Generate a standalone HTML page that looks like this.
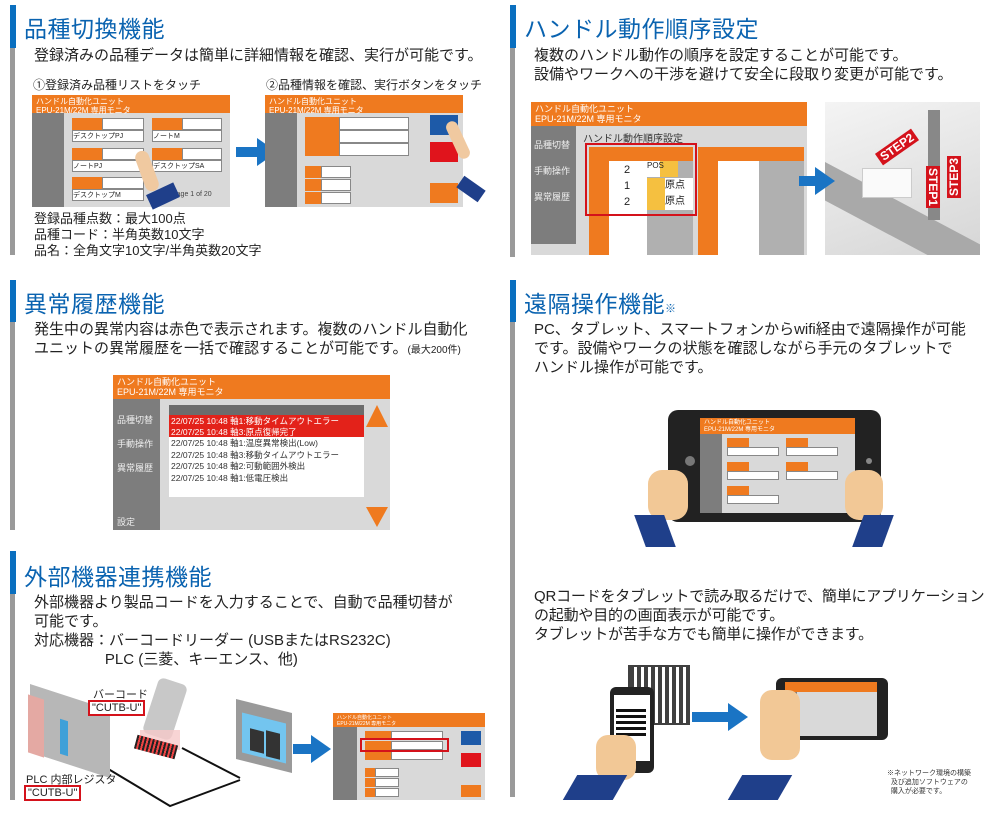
<!DOCTYPE html>
<html><head><meta charset="utf-8">
<style>
*{margin:0;padding:0;box-sizing:border-box}
body{width:1000px;height:813px;position:relative;background:#fff;font-family:"Liberation Sans","Noto Sans CJK JP",sans-serif;color:#222;overflow:hidden}
.a{position:absolute}
.blue{background:#0a6fbf}
.gray{background:#9a9a9a}
.h{position:absolute;font-size:23px;color:#0a63b0;white-space:nowrap;letter-spacing:0.5px}
.t{position:absolute;font-size:15px;line-height:19px;white-space:nowrap;color:#222}
.s{position:absolute;font-size:12px;white-space:nowrap}
.scr{position:absolute;background:#d9d9d9;overflow:hidden}
.scr .top{position:absolute;left:0;top:0;right:0;background:#ef7a1f;color:#fff;font-size:8px;line-height:9px;padding:2px 4px}
.scr .side{position:absolute;left:0;bottom:0;background:#7d7d7d}
.o{position:absolute;background:#ef7a1f}
.w{position:absolute;background:#fff;border:1px solid #888}
.arr{position:absolute;width:0;height:0;border-top:14px solid transparent;border-bottom:14px solid transparent;border-left:20px solid #1a74c4}
.ab{position:absolute;background:#1a74c4}
.red{border:2px solid #d4121b;position:absolute}
</style></head><body>

<!-- Section bars -->
<div class="a blue" style="left:10px;top:5px;width:6px;height:43px"></div>
<div class="a gray" style="left:10px;top:48px;width:5px;height:207px"></div>
<div class="a blue" style="left:10px;top:280px;width:6px;height:42px"></div>
<div class="a gray" style="left:10px;top:322px;width:5px;height:208px"></div>
<div class="a blue" style="left:10px;top:551px;width:6px;height:43px"></div>
<div class="a gray" style="left:10px;top:594px;width:5px;height:206px"></div>
<div class="a blue" style="left:510px;top:5px;width:6px;height:43px"></div>
<div class="a gray" style="left:510px;top:48px;width:5px;height:209px"></div>
<div class="a blue" style="left:510px;top:280px;width:6px;height:42px"></div>
<div class="a gray" style="left:510px;top:322px;width:5px;height:475px"></div>

<!-- Section 1 -->
<div class="h" style="left:24px;top:10px">品種切換機能</div>
<div class="t" style="left:34px;top:46px">登録済みの品種データは簡単に詳細情報を確認、実行が可能です。</div>
<div class="s" style="left:33px;top:76px">①登録済み品種リストをタッチ</div>
<div class="s" style="left:266px;top:76px">②品種情報を確認、実行ボタンをタッチ</div>
<div class="scr" style="left:32px;top:95px;width:198px;height:112px">
 <div class="top" style="height:18px">ハンドル自動化ユニット<br>EPU-21M/22M 専用モニタ</div>
 <div class="side" style="top:18px;width:32px"></div>
 <div class="o" style="left:40px;top:23px;width:30px;height:12px"></div><div class="w" style="left:70px;top:23px;width:42px;height:12px"></div>
 <div class="w" style="left:40px;top:35px;width:72px;height:12px;font-size:7px">デスクトップPJ</div>
 <div class="o" style="left:120px;top:23px;width:30px;height:12px"></div><div class="w" style="left:150px;top:23px;width:40px;height:12px"></div>
 <div class="w" style="left:120px;top:35px;width:70px;height:12px;font-size:7px">ノートM</div>
 <div class="o" style="left:40px;top:53px;width:30px;height:12px"></div><div class="w" style="left:70px;top:53px;width:42px;height:12px"></div>
 <div class="w" style="left:40px;top:65px;width:72px;height:12px;font-size:7px">ノートPJ</div>
 <div class="o" style="left:120px;top:53px;width:30px;height:12px"></div><div class="w" style="left:150px;top:53px;width:40px;height:12px"></div>
 <div class="w" style="left:120px;top:65px;width:70px;height:12px;font-size:7px">デスクトップSA</div>
 <div class="o" style="left:40px;top:82px;width:30px;height:12px"></div><div class="w" style="left:70px;top:82px;width:42px;height:12px"></div>
 <div class="w" style="left:40px;top:94px;width:72px;height:12px;font-size:7px">デスクトップM</div>
 <div class="a" style="left:140px;top:96px;font-size:7px;color:#444">Page 1 of 20</div>
</div>
<div class="a" style="left:140px;top:150px;width:14px;height:42px;background:#f0c9a0;border-radius:7px;transform:rotate(-20deg)"></div>
<div class="a" style="left:148px;top:188px;width:30px;height:16px;background:#1f3f8a;transform:rotate(-25deg)"></div>
<div class="ab" style="left:236px;top:147px;width:22px;height:10px"></div>
<div class="arr" style="left:257px;top:138px"></div>
<div class="scr" style="left:265px;top:95px;width:198px;height:112px">
 <div class="top" style="height:18px">ハンドル自動化ユニット<br>EPU-21M/22M 専用モニタ</div>
 <div class="side" style="top:18px;width:32px"></div>
 <div class="o" style="left:40px;top:22px;width:34px;height:13px"></div><div class="w" style="left:74px;top:22px;width:70px;height:13px"></div>
 <div class="o" style="left:40px;top:35px;width:34px;height:13px"></div><div class="w" style="left:74px;top:35px;width:70px;height:13px"></div>
 <div class="o" style="left:40px;top:48px;width:34px;height:13px"></div><div class="w" style="left:74px;top:48px;width:70px;height:13px"></div>
 <div class="o" style="left:40px;top:71px;width:16px;height:12px"></div><div class="w" style="left:56px;top:71px;width:30px;height:12px"></div>
 <div class="o" style="left:40px;top:84px;width:16px;height:12px"></div><div class="w" style="left:56px;top:84px;width:30px;height:12px"></div>
 <div class="o" style="left:40px;top:97px;width:16px;height:12px"></div><div class="w" style="left:56px;top:97px;width:30px;height:12px"></div>
 <div class="a" style="left:165px;top:20px;width:28px;height:20px;background:#1d5aa8"></div>
 <div class="a" style="left:165px;top:47px;width:28px;height:20px;background:#e0141c"></div>
 <div class="a" style="left:165px;top:88px;width:28px;height:20px;background:#ef7a1f"></div>
</div>
<div class="a" style="left:452px;top:120px;width:12px;height:40px;background:#f0c9a0;border-radius:6px;transform:rotate(-25deg)"></div>
<div class="a" style="left:458px;top:182px;width:26px;height:14px;background:#1f3f8a;transform:rotate(35deg)"></div>
<div class="t" style="left:34px;top:211px;font-size:13px;line-height:16px">登録品種点数：最大100点<br>品種コード：半角英数10文字<br>品名：全角文字10文字/半角英数20文字</div>

<!-- Section 2 right: handle order -->
<div class="h" style="left:524px;top:10px">ハンドル動作順序設定</div>
<div class="t" style="left:534px;top:46px">複数のハンドル動作の順序を設定することが可能です。<br>設備やワークへの干渉を避けて安全に段取り変更が可能です。</div>
<div class="scr" style="left:531px;top:102px;width:276px;height:153px">
 <div class="top" style="height:24px;font-size:9px;line-height:10px">ハンドル自動化ユニット<br>EPU-21M/22M 専用モニタ</div>
 <div class="side" style="top:24px;width:45px;height:118px;bottom:auto"></div>
 <div class="a" style="left:3px;top:30px;font-size:9px;color:#eee;line-height:26px">品種切替<br>手動操作<br>異常履歴</div>
 <div class="a" style="left:52px;top:28px;font-size:10px;color:#333">ハンドル動作順序設定</div>
</div>
<div class="a" style="left:589px;top:147px;width:104px;height:108px;background:#fff"></div>
<div class="a" style="left:589px;top:147px;width:20px;height:108px;background:#ef7a1f"></div>
<div class="a" style="left:609px;top:147px;width:84px;height:14px;background:#ef7a1f"></div>
<div class="a" style="left:647px;top:161px;width:46px;height:94px;background:#b0b0b0"></div>
<div class="a" style="left:660px;top:161px;width:18px;height:16px;background:#f5c040"></div>
<div class="a" style="left:647px;top:178px;width:18px;height:32px;background:#f5c040"></div>
<div class="a" style="left:665px;top:178px;width:28px;height:32px;background:#fff;font-size:10px;line-height:16px">原点<br>原点</div>
<div class="a" style="left:647px;top:161px;width:13px;height:16px;background:#fff;font-size:8px">POS</div>
<div class="a" style="left:624px;top:162px;font-size:11px;line-height:16px">2<br>1<br>2</div>
<div class="a" style="left:698px;top:147px;width:106px;height:108px;background:#fff"></div>
<div class="a" style="left:698px;top:147px;width:20px;height:108px;background:#ef7a1f"></div>
<div class="a" style="left:718px;top:147px;width:86px;height:14px;background:#ef7a1f"></div>
<div class="a" style="left:759px;top:161px;width:45px;height:94px;background:#b0b0b0"></div>
<div class="red" style="left:585px;top:143px;width:112px;height:73px"></div>
<div class="a" style="left:825px;top:102px;width:155px;height:153px;background:linear-gradient(160deg,#f4f4f4,#d6d6d6);overflow:hidden">
 <div class="a" style="left:0;top:60px;width:200px;height:34px;background:#a9a9a9;transform:rotate(28deg);transform-origin:left top"></div>
 <div class="a" style="left:37px;top:66px;width:50px;height:30px;background:#fafafa;border:1px solid #ccc"></div>
 <div class="a" style="left:103px;top:8px;width:12px;height:110px;background:#888"></div>
 <div class="a" style="left:50px;top:38px;font-size:12px;font-weight:bold;color:#fff;background:#d4121b;padding:0 3px;transform:rotate(-35deg)">STEP2</div>
 <div class="a" style="left:87px;top:78px;font-size:12px;font-weight:bold;color:#fff;background:#d4121b;padding:0 2px;transform:rotate(90deg)">STEP1</div>
 <div class="a" style="left:108px;top:68px;font-size:12px;font-weight:bold;color:#fff;background:#d4121b;padding:0 2px;transform:rotate(-90deg)">STEP3</div>
</div>
<div class="ab" style="left:799px;top:176px;width:18px;height:10px"></div>
<div class="arr" style="left:815px;top:167px"></div>

<!-- 異常履歴 -->
<div class="h" style="left:24px;top:285px">異常履歴機能</div>
<div class="t" style="left:34px;top:320px">発生中の異常内容は赤色で表示されます。複数のハンドル自動化<br>ユニットの異常履歴を一括で確認することが可能です。<span style="font-size:10px">(最大200件)</span></div>
<div class="scr" style="left:113px;top:375px;width:277px;height:155px">
 <div class="top" style="height:24px;font-size:9px;line-height:10px">ハンドル自動化ユニット<br>EPU-21M/22M 専用モニタ</div>
 <div class="side" style="top:24px;width:47px"></div>
 <div class="a" style="left:4px;top:33px;font-size:9px;color:#eee;line-height:24px">品種切替<br>手動操作<br>異常履歴</div>
 <div class="a" style="left:4px;top:140px;font-size:9px;color:#eee">設定</div>
 <div class="a" style="left:56px;top:30px;width:195px;height:10px;background:#6c6c6c"></div>
 <div class="a" style="left:56px;top:40px;width:195px;height:22px;background:#e3221a"></div>
 <div class="a" style="left:56px;top:62px;width:195px;height:60px;background:#fff"></div>
 <div class="a" style="left:58px;top:41px;font-size:8.5px;line-height:11px;color:#fff;white-space:nowrap">22/07/25 10:48 軸1:移動タイムアウトエラー<br>22/07/25 10:48 軸3:原点復帰完了</div>
 <div class="a" style="left:58px;top:63px;font-size:8.5px;line-height:11.5px;color:#333;white-space:nowrap">22/07/25 10:48 軸1:温度異常検出(Low)<br>22/07/25 10:48 軸3:移動タイムアウトエラー<br>22/07/25 10:48 軸2:可動範囲外検出<br>22/07/25 10:48 軸1:低電圧検出</div>
 <div class="a" style="left:253px;top:30px;width:0;height:0;border-left:11px solid transparent;border-right:11px solid transparent;border-bottom:22px solid #ef7a1f"></div>
 <div class="a" style="left:253px;top:132px;width:0;height:0;border-left:11px solid transparent;border-right:11px solid transparent;border-top:20px solid #ef7a1f"></div>
</div>

<!-- 遠隔 -->
<div class="h" style="left:524px;top:285px">遠隔操作機能<span style="font-size:11px">※</span></div>
<div class="t" style="left:534px;top:320px">PC、タブレット、スマートフォンからwifi経由で遠隔操作が可能<br>です。設備やワークの状態を確認しながら手元のタブレットで<br>ハンドル操作が可能です。</div>
<div class="a" style="left:668px;top:410px;width:213px;height:112px;background:#222;border-radius:10px"></div>
<div class="a" style="left:685px;top:456px;width:10px;height:10px;background:#777;border-radius:50%"></div>
<div class="scr" style="left:700px;top:418px;width:155px;height:95px">
 <div class="top" style="height:16px;font-size:6px;line-height:7px">ハンドル自動化ユニット<br>EPU-21M/22M 専用モニタ</div>
 <div class="side" style="top:16px;width:22px"></div>
 <div class="o" style="left:27px;top:20px;width:22px;height:9px"></div><div class="w" style="left:27px;top:29px;width:52px;height:9px"></div>
 <div class="o" style="left:86px;top:20px;width:22px;height:9px"></div><div class="w" style="left:86px;top:29px;width:52px;height:9px"></div>
 <div class="o" style="left:27px;top:44px;width:22px;height:9px"></div><div class="w" style="left:27px;top:53px;width:52px;height:9px"></div>
 <div class="o" style="left:86px;top:44px;width:22px;height:9px"></div><div class="w" style="left:86px;top:53px;width:52px;height:9px"></div>
 <div class="o" style="left:27px;top:68px;width:22px;height:9px"></div><div class="w" style="left:27px;top:77px;width:52px;height:9px"></div>
</div>
<div class="a" style="left:866px;top:458px;width:6px;height:6px;background:#888;border-radius:50%"></div>
<div class="a" style="left:648px;top:470px;width:40px;height:50px;background:#f2c896;border-radius:14px"></div>
<div class="a" style="left:640px;top:515px;width:30px;height:32px;background:#1f3f8a;transform:skewX(20deg)"></div>
<div class="a" style="left:845px;top:470px;width:38px;height:50px;background:#f2c896;border-radius:14px"></div>
<div class="a" style="left:858px;top:515px;width:30px;height:32px;background:#1f3f8a;transform:skewX(-20deg)"></div>

<!-- QR -->
<div class="t" style="left:534px;top:587px;letter-spacing:-0.2px">QRコードをタブレットで読み取るだけで、簡単にアプリケーション<br>の起動や目的の画面表示が可能です。<br>タブレットが苦手な方でも簡単に操作ができます。</div>
<div class="a" style="left:628px;top:665px;width:62px;height:60px;border:2px solid #111;background:repeating-linear-gradient(90deg,#111 0 4px,#fff 4px 7px),#fff;opacity:.8"></div>
<div class="a" style="left:610px;top:687px;width:44px;height:86px;background:#222;border-radius:6px"></div>
<div class="a" style="left:614px;top:695px;width:36px;height:66px;background:#fff"></div>
<div class="a" style="left:616px;top:706px;width:30px;height:30px;background:repeating-linear-gradient(0deg,#111 0 3px,#fff 3px 6px)"></div>
<div class="a" style="left:596px;top:735px;width:40px;height:45px;background:#f2c896;border-radius:12px"></div>
<div class="a" style="left:570px;top:775px;width:50px;height:25px;background:#1f3f8a;transform:skewX(-30deg)"></div>
<div class="ab" style="left:692px;top:712px;width:38px;height:10px"></div>
<div class="arr" style="left:728px;top:703px"></div>
<div class="a" style="left:776px;top:678px;width:112px;height:62px;background:#222;border-radius:6px"></div>
<div class="scr" style="left:785px;top:682px;width:92px;height:54px">
 <div class="top" style="height:10px;font-size:5px"></div>
 <div class="side" style="top:10px;width:12px"></div>
</div>
<div class="a" style="left:760px;top:690px;width:40px;height:70px;background:#f2c896;border-radius:12px"></div>
<div class="a" style="left:735px;top:775px;width:50px;height:25px;background:#1f3f8a;transform:skewX(-30deg)"></div>
<div class="a" style="left:887px;top:769px;font-size:7px;line-height:9px;color:#333;white-space:nowrap">※ネットワーク環境の構築<br>&nbsp;&nbsp;及び追加ソフトウェアの<br>&nbsp;&nbsp;購入が必要です。</div>

<!-- 外部 -->
<div class="h" style="left:24px;top:558px">外部機器連携機能</div>
<div class="t" style="left:34px;top:593px">外部機器より製品コードを入力することで、自動で品種切替が<br>可能です。<br>対応機器：バーコードリーダー (USBまたはRS232C)<br>&nbsp;&nbsp;&nbsp;&nbsp;&nbsp;&nbsp;&nbsp;&nbsp;&nbsp;&nbsp;&nbsp;&nbsp;&nbsp;&nbsp;&nbsp;&nbsp;&nbsp;PLC (三菱、キーエンス、他)</div>
<svg class="a" style="left:0;top:680px" width="330" height="133">
 <polyline points="182,68 240,98" stroke="#111" stroke-width="2" fill="none"/>
 <polyline points="105,87 170,126 240,100" stroke="#111" stroke-width="2" fill="none"/>
</svg>
<div class="a" style="left:30px;top:697px;width:80px;height:68px;background:#b7b7b7;transform:skewY(18deg)"></div>
<div class="a" style="left:28px;top:697px;width:16px;height:58px;background:#e4a9a3;transform:skewY(18deg)"></div>
<div class="a" style="left:60px;top:720px;width:8px;height:35px;background:#3fa0d8;transform:skewY(18deg)"></div>
<div class="s" style="left:93px;top:686px;font-size:11px">バーコード</div>
<div class="a" style="left:88px;top:700px;border:2px solid #d4121b;font-size:11px;padding:0 2px;line-height:12px;background:#fff">"CUTB-U"</div>
<div class="s" style="left:26px;top:771px;font-size:11px">PLC 内部レジスタ</div>
<div class="a" style="left:24px;top:785px;border:2px solid #d4121b;font-size:11px;padding:0 2px;line-height:12px;background:#fff">"CUTB-U"</div>
<div class="a" style="left:150px;top:680px;width:30px;height:58px;background:#c8c8c8;border-radius:6px;transform:rotate(18deg)"></div>
<div class="a" style="left:140px;top:730px;width:40px;height:20px;background:#f6c9c9;opacity:.8"></div>
<div class="a" style="left:135px;top:740px;width:42px;height:14px;background:repeating-linear-gradient(90deg,#222 0 2px,#e44 2px 4px);transform:rotate(15deg)"></div>
<div class="a" style="left:236px;top:706px;width:56px;height:60px;background:#9a9a9a;transform:skewY(14deg)"></div>
<div class="a" style="left:242px;top:718px;width:44px;height:40px;background:#73c5ef;transform:skewY(14deg)"></div>
<div class="a" style="left:250px;top:730px;width:14px;height:22px;background:#333;transform:skewY(14deg)"></div>
<div class="a" style="left:266px;top:732px;width:14px;height:26px;background:#333;transform:skewY(14deg)"></div>
<div class="ab" style="left:293px;top:744px;width:20px;height:10px"></div>
<div class="arr" style="left:311px;top:735px"></div>
<div class="scr" style="left:333px;top:713px;width:152px;height:87px">
 <div class="top" style="height:14px;font-size:5px;line-height:6px">ハンドル自動化ユニット<br>EPU-21M/22M 専用モニタ</div>
 <div class="side" style="top:14px;width:24px"></div>
 <div class="o" style="left:32px;top:18px;width:26px;height:9px"></div><div class="w" style="left:58px;top:18px;width:52px;height:9px"></div>
 <div class="o" style="left:32px;top:28px;width:26px;height:9px"></div><div class="w" style="left:58px;top:28px;width:52px;height:9px"></div>
 <div class="o" style="left:32px;top:38px;width:26px;height:9px"></div><div class="w" style="left:58px;top:38px;width:52px;height:9px"></div>
 <div class="o" style="left:32px;top:55px;width:10px;height:9px"></div><div class="w" style="left:42px;top:55px;width:24px;height:9px"></div>
 <div class="o" style="left:32px;top:65px;width:10px;height:9px"></div><div class="w" style="left:42px;top:65px;width:24px;height:9px"></div>
 <div class="o" style="left:32px;top:75px;width:10px;height:9px"></div><div class="w" style="left:42px;top:75px;width:24px;height:9px"></div>
 <div class="a" style="left:128px;top:18px;width:20px;height:14px;background:#1d5aa8"></div>
 <div class="a" style="left:128px;top:40px;width:20px;height:14px;background:#e0141c"></div>
 <div class="a" style="left:128px;top:72px;width:20px;height:12px;background:#ef7a1f"></div>
</div>
<div class="red" style="left:360px;top:738px;width:89px;height:14px"></div>
</body></html>
